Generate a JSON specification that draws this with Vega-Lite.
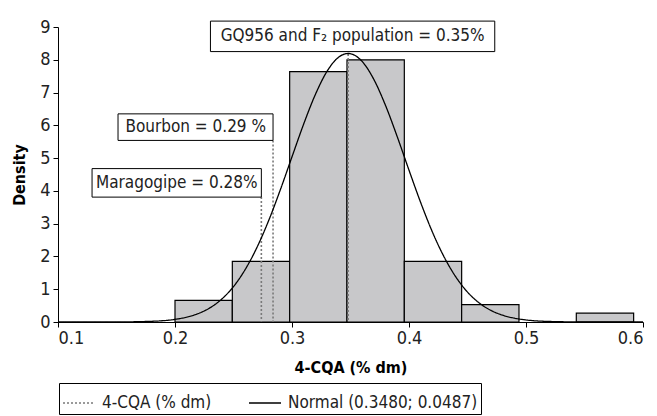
{
  "$schema": "https://vega.github.io/schema/vega-lite/v6.json",
  "width": 585,
  "height": 295,
  "autosize": "none",
  "padding": {"left": 58, "top": 27, "right": 14, "bottom": 94},
  "config": {
    "view": {"stroke": null},
    "font": "DejaVu Sans Condensed, DejaVu Sans, sans-serif",
    "axis": {"grid": false, "domainColor": "#000", "tickColor": "#000", "labelColor": "#222", "titleColor": "#000", "labelFont": "DejaVu Sans Condensed, DejaVu Sans, sans-serif", "titleFont": "DejaVu Sans Condensed, DejaVu Sans, sans-serif", "labelFontSize": 18, "titleFontSize": 16, "titleFontWeight": "bold", "tickSize": 5, "domainWidth": 1, "tickWidth": 1, "labelOverlap": false},
    "legend": {"labelFont": "DejaVu Sans Condensed, DejaVu Sans, sans-serif", "labelFontSize": 17, "labelColor": "#222"}
  },
  "datasets": {
    "bars": [
      {"bin_start": 0.200, "bin_end": 0.249, "density": 0.66},
      {"bin_start": 0.249, "bin_end": 0.298, "density": 1.85},
      {"bin_start": 0.298, "bin_end": 0.347, "density": 7.64},
      {"bin_start": 0.347, "bin_end": 0.396, "density": 8.0},
      {"bin_start": 0.396, "bin_end": 0.445, "density": 1.85},
      {"bin_start": 0.445, "bin_end": 0.494, "density": 0.53},
      {"bin_start": 0.543, "bin_end": 0.592, "density": 0.27}
    ],
    "curve": [
      {"x": 0.10, "y": 0.0, "series": "Normal (0.3480; 0.0487)"},
      {"x": 0.15, "y": 0.002, "series": "Normal (0.3480; 0.0487)"},
      {"x": 0.18, "y": 0.021, "series": "Normal (0.3480; 0.0487)"},
      {"x": 0.20, "y": 0.081, "series": "Normal (0.3480; 0.0487)"},
      {"x": 0.21, "y": 0.148, "series": "Normal (0.3480; 0.0487)"},
      {"x": 0.22, "y": 0.259, "series": "Normal (0.3480; 0.0487)"},
      {"x": 0.23, "y": 0.435, "series": "Normal (0.3480; 0.0487)"},
      {"x": 0.24, "y": 0.701, "series": "Normal (0.3480; 0.0487)"},
      {"x": 0.25, "y": 1.081, "series": "Normal (0.3480; 0.0487)"},
      {"x": 0.26, "y": 1.601, "series": "Normal (0.3480; 0.0487)"},
      {"x": 0.27, "y": 2.272, "series": "Normal (0.3480; 0.0487)"},
      {"x": 0.28, "y": 3.090, "series": "Normal (0.3480; 0.0487)"},
      {"x": 0.29, "y": 4.031, "series": "Normal (0.3480; 0.0487)"},
      {"x": 0.30, "y": 5.040, "series": "Normal (0.3480; 0.0487)"},
      {"x": 0.31, "y": 6.042, "series": "Normal (0.3480; 0.0487)"},
      {"x": 0.32, "y": 6.943, "series": "Normal (0.3480; 0.0487)"},
      {"x": 0.33, "y": 7.651, "series": "Normal (0.3480; 0.0487)"},
      {"x": 0.34, "y": 8.082, "series": "Normal (0.3480; 0.0487)"},
      {"x": 0.348, "y": 8.192, "series": "Normal (0.3480; 0.0487)"},
      {"x": 0.36, "y": 7.947, "series": "Normal (0.3480; 0.0487)"},
      {"x": 0.37, "y": 7.397, "series": "Normal (0.3480; 0.0487)"},
      {"x": 0.38, "y": 6.601, "series": "Normal (0.3480; 0.0487)"},
      {"x": 0.39, "y": 5.648, "series": "Normal (0.3480; 0.0487)"},
      {"x": 0.40, "y": 4.632, "series": "Normal (0.3480; 0.0487)"},
      {"x": 0.41, "y": 3.643, "series": "Normal (0.3480; 0.0487)"},
      {"x": 0.42, "y": 2.746, "series": "Normal (0.3480; 0.0487)"},
      {"x": 0.43, "y": 1.985, "series": "Normal (0.3480; 0.0487)"},
      {"x": 0.44, "y": 1.376, "series": "Normal (0.3480; 0.0487)"},
      {"x": 0.45, "y": 0.913, "series": "Normal (0.3480; 0.0487)"},
      {"x": 0.46, "y": 0.582, "series": "Normal (0.3480; 0.0487)"},
      {"x": 0.47, "y": 0.355, "series": "Normal (0.3480; 0.0487)"},
      {"x": 0.48, "y": 0.208, "series": "Normal (0.3480; 0.0487)"},
      {"x": 0.49, "y": 0.117, "series": "Normal (0.3480; 0.0487)"},
      {"x": 0.50, "y": 0.063, "series": "Normal (0.3480; 0.0487)"},
      {"x": 0.52, "y": 0.016, "series": "Normal (0.3480; 0.0487)"},
      {"x": 0.55, "y": 0.0015, "series": "Normal (0.3480; 0.0487)"},
      {"x": 0.60, "y": 0.0, "series": "Normal (0.3480; 0.0487)"}
    ],
    "markers": [
      {"x": 0.2738, "top": 3.81, "base": 0, "series": "4-CQA (% dm)"},
      {"x": 0.2838, "top": 5.54, "base": 0, "series": "4-CQA (% dm)"},
      {"x": 0.348, "top": 8.18, "base": 0, "series": "4-CQA (% dm)"}
    ],
    "labels": [
      {"label": "GQ956 and F₂ population = 0.35%", "x1": 0.2303, "x2": 0.4733, "y1": 8.25, "y2": 9.18, "xc": 0.3518, "yc": 8.72},
      {"label": "Bourbon = 0.29 %", "x1": 0.1513, "x2": 0.2838, "y1": 5.54, "y2": 6.35, "xc": 0.2177, "yc": 5.945},
      {"label": "Maragogipe = 0.28%", "x1": 0.1291, "x2": 0.2738, "y1": 3.81, "y2": 4.68, "xc": 0.2015, "yc": 4.244}
    ]
  },
  "layer": [
    {
      "data": {"name": "bars"},
      "mark": {"type": "rect", "fill": "#c8c8ca", "stroke": "#000", "strokeWidth": 1.2},
      "encoding": {
        "x": {"field": "bin_start", "type": "quantitative", "scale": {"domain": [0.1, 0.6], "nice": false, "zero": false}, "axis": {"values": [0.1, 0.2, 0.3, 0.4, 0.5, 0.6], "format": ".1f", "title": "4-CQA (% dm)", "labelPadding": 2, "titlePadding": 12}},
        "x2": {"field": "bin_end"},
        "y": {"field": "density", "type": "quantitative", "scale": {"domain": [0, 9], "nice": false}, "axis": {"values": [0, 1, 2, 3, 4, 5, 6, 7, 8, 9], "title": "Density", "labelPadding": 3, "titlePadding": 12}}
      }
    },
    {
      "data": {"name": "markers"},
      "mark": {"type": "rule", "strokeWidth": 1.6},
      "encoding": {
        "x": {"field": "x", "type": "quantitative", "axis": {"values": [0.1, 0.2, 0.3, 0.4, 0.5, 0.6], "format": ".1f", "title": "4-CQA (% dm)", "labelPadding": 2, "titlePadding": 12}},
        "y": {"field": "top", "type": "quantitative", "axis": {"values": [0, 1, 2, 3, 4, 5, 6, 7, 8, 9], "title": "Density", "labelPadding": 3, "titlePadding": 12}},
        "y2": {"field": "base"},
        "color": {"field": "series", "type": "nominal"},
        "strokeDash": {"field": "series", "type": "nominal"}
      }
    },
    {
      "data": {"name": "curve"},
      "mark": {"type": "line", "interpolate": "monotone", "strokeWidth": 1.3},
      "encoding": {
        "x": {"field": "x", "type": "quantitative", "axis": {"values": [0.1, 0.2, 0.3, 0.4, 0.5, 0.6], "format": ".1f", "title": "4-CQA (% dm)", "labelPadding": 2, "titlePadding": 12}},
        "y": {"field": "y", "type": "quantitative", "axis": {"values": [0, 1, 2, 3, 4, 5, 6, 7, 8, 9], "title": "Density", "labelPadding": 3, "titlePadding": 12}},
        "color": {"field": "series", "type": "nominal", "scale": {"domain": ["4-CQA (% dm)", "Normal (0.3480; 0.0487)"], "range": ["#7a7a7a", "#000000"]}, "legend": {"title": null, "orient": "none", "legendX": 1, "legendY": 356, "direction": "horizontal", "symbolType": "stroke", "symbolSize": 1024, "symbolStrokeWidth": 1.3, "strokeColor": "#000", "padding": 3, "columnPadding": 34, "labelOffset": 6, "labelLimit": 400}},
        "strokeDash": {"field": "series", "type": "nominal", "scale": {"domain": ["4-CQA (% dm)", "Normal (0.3480; 0.0487)"], "range": [[2, 2], [1, 0]]}, "legend": {"title": null, "orient": "none", "legendX": 1, "legendY": 356, "direction": "horizontal", "symbolType": "stroke", "symbolSize": 1024, "symbolStrokeWidth": 1.3, "strokeColor": "#000", "padding": 3, "columnPadding": 34, "labelOffset": 6, "labelLimit": 400}}
      }
    },
    {
      "data": {"name": "labels"},
      "mark": {"type": "rect", "fill": "#fff", "stroke": "#000", "strokeWidth": 1, "clip": false},
      "encoding": {
        "x": {"field": "x1", "type": "quantitative", "axis": {"values": [0.1, 0.2, 0.3, 0.4, 0.5, 0.6], "format": ".1f", "title": "4-CQA (% dm)", "labelPadding": 2, "titlePadding": 12}},
        "x2": {"field": "x2"},
        "y": {"field": "y1", "type": "quantitative", "axis": {"values": [0, 1, 2, 3, 4, 5, 6, 7, 8, 9], "title": "Density", "labelPadding": 3, "titlePadding": 12}},
        "y2": {"field": "y2"}
      }
    },
    {
      "data": {"name": "labels"},
      "mark": {"type": "text", "fontSize": 17, "font": "DejaVu Sans Condensed, DejaVu Sans, sans-serif", "color": "#222", "align": "center", "baseline": "middle"},
      "encoding": {
        "x": {"field": "xc", "type": "quantitative", "axis": {"values": [0.1, 0.2, 0.3, 0.4, 0.5, 0.6], "format": ".1f", "title": "4-CQA (% dm)", "labelPadding": 2, "titlePadding": 12}},
        "y": {"field": "yc", "type": "quantitative", "axis": {"values": [0, 1, 2, 3, 4, 5, 6, 7, 8, 9], "title": "Density", "labelPadding": 3, "titlePadding": 12}},
        "text": {"field": "label", "type": "nominal"}
      }
    }
  ]
}
